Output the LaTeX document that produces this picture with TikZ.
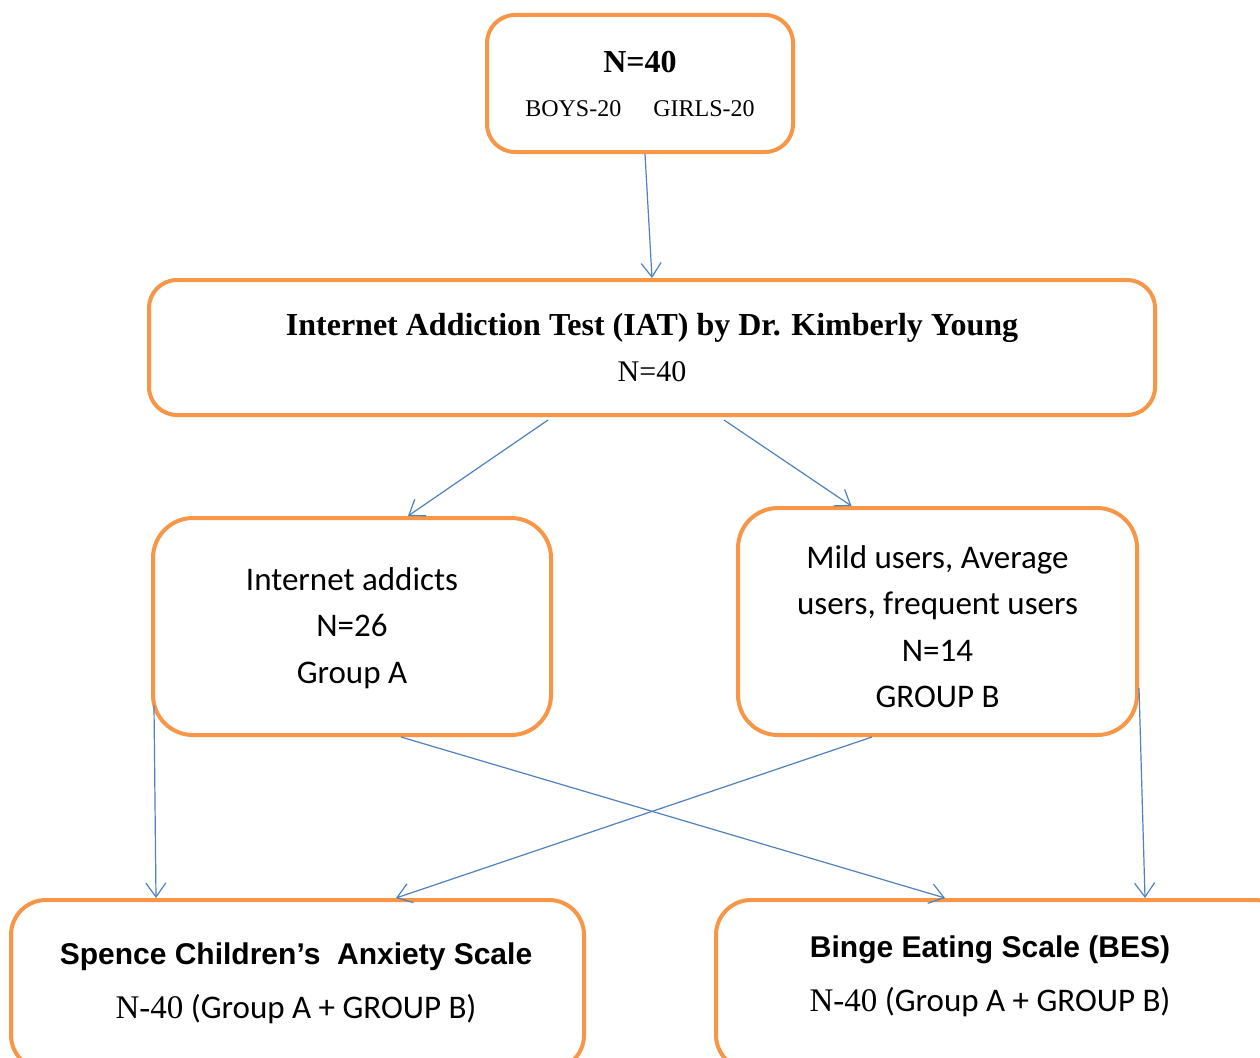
\documentclass[tikz,border=0pt]{standalone}
\usepackage{fontspec}
\usetikzlibrary{arrows.meta,calc}
\setmainfont{Liberation Serif}
\newfontfamily\ftnr{Liberation Serif}
\newfontfamily\fcal{Carlito}
\newfontfamily\fari{Liberation Sans}
\definecolor{boxorange}{HTML}{F79646}
\definecolor{arrowblue}{HTML}{4F81BD}
\begin{document}
\begin{tikzpicture}[x=1pt,y=-1pt,
  box/.style={draw=boxorange, line width=4pt, fill=white, inner sep=0pt, align=center},
  conn/.style={draw=arrowblue, line width=1.2pt, -{Straight Barb[length=14pt,width=20pt]}},
  txt/.style={inner sep=0pt, anchor=base},
  multi/.style={inner sep=0pt, align=center, font=\fcal\fontsize{33}{46.5}\selectfont}
]
\path[use as bounding box, clip] (0,0) rectangle (1260,1057);
\fill[white] (0,0) rectangle (1260,1057);

% boxes
\node[box, rounded corners=28pt, minimum width=306pt, minimum height=137pt,
      font=\ftnr\fontsize{24}{44}\selectfont] (top) at (640,83.5)
  {{\fontsize{32}{44}\selectfont\bfseries N=40}\\BOYS-20\hspace{32pt}GIRLS-20};
\node[box, rounded corners=28pt, minimum width=1006pt, minimum height=135pt,
      font=\ftnr\fontsize{30}{46}\selectfont] (iat) at (652,347.5)
  {{\fontsize{32}{46}\selectfont\bfseries Internet Addiction Test (IAT) by Dr. Kimberly Young}\\N=40};
\node[box, rounded corners=40pt, minimum width=398pt, minimum height=217pt] (ga) at (352,626.5) {};
\node[multi] (gat) at (352,628) {Internet addicts\\N=26\\Group A};
\node[box, rounded corners=40pt, minimum width=399pt, minimum height=227pt] (gb) at (937.5,621.5) {};
\node[multi] (gbt) at (937.5,626.5) {Mild users, Average\\users, frequent users\\N=14\\GROUP B};
\node[box, rounded corners=35pt, minimum width=573pt, minimum height=170pt] (sp) at (297.5,985) {};
\node[box, rounded corners=35pt, minimum width=574pt, minimum height=170pt] (bes) at (1003,985) {};

% texts of bottom boxes
\node[txt, font=\fari\bfseries\fontsize{30}{36}\selectfont] (spt) at (296,964) {Spence Children’s\ \ Anxiety Scale};
\node[txt, font=\fcal\fontsize{33}{36}\selectfont] (spn) at (296,1018) {{\ftnr N-40} (Group A + GROUP B)};
\node[txt, font=\fari\bfseries\fontsize{30}{36}\selectfont] (best) at (990,957) {Binge Eating Scale (BES)};
\node[txt, font=\fcal\fontsize{33}{36}\selectfont] (besn) at (990,1011) {{\ftnr N-40} (Group A + GROUP B)};

% connectors
\coordinate (c1) at ($(top.south)+(5,0)$);
\coordinate (c2) at ($(iat.south)+(-104,3)$);
\coordinate (c3) at ($(ga.north)+(56,0)$);
\coordinate (c4) at ($(iat.south)+(72,3)$);
\coordinate (c5) at ($(gb.north)+(-86,0)$);
\coordinate (c6) at ($(ga.west)+(3,79)$);
\coordinate (c7) at ($(sp.north)+(-141.5,0)$);
\coordinate (c8) at ($(ga.south)+(49,0)$);
\coordinate (c9) at ($(bes.north)+(-58,0)$);
\coordinate (c10) at ($(gb.south)+(-65.5,0)$);
\coordinate (c11) at ($(sp.north)+(98.5,0)$);
\coordinate (c12) at ($(gb.east)+(0,66.5)$);
\coordinate (c13) at ($(bes.north)+(142,0)$);

\draw[conn] (c1) -- (iat.north);
\draw[conn] (c2) -- (c3);
\draw[conn] (c4) -- (c5);
\draw[conn] (c6) -- (c7);
\draw[conn] (c8) -- (c9);
\draw[conn] (c10) -- (c11);
\draw[conn] (c12) -- (c13);
\end{tikzpicture}
\end{document}
